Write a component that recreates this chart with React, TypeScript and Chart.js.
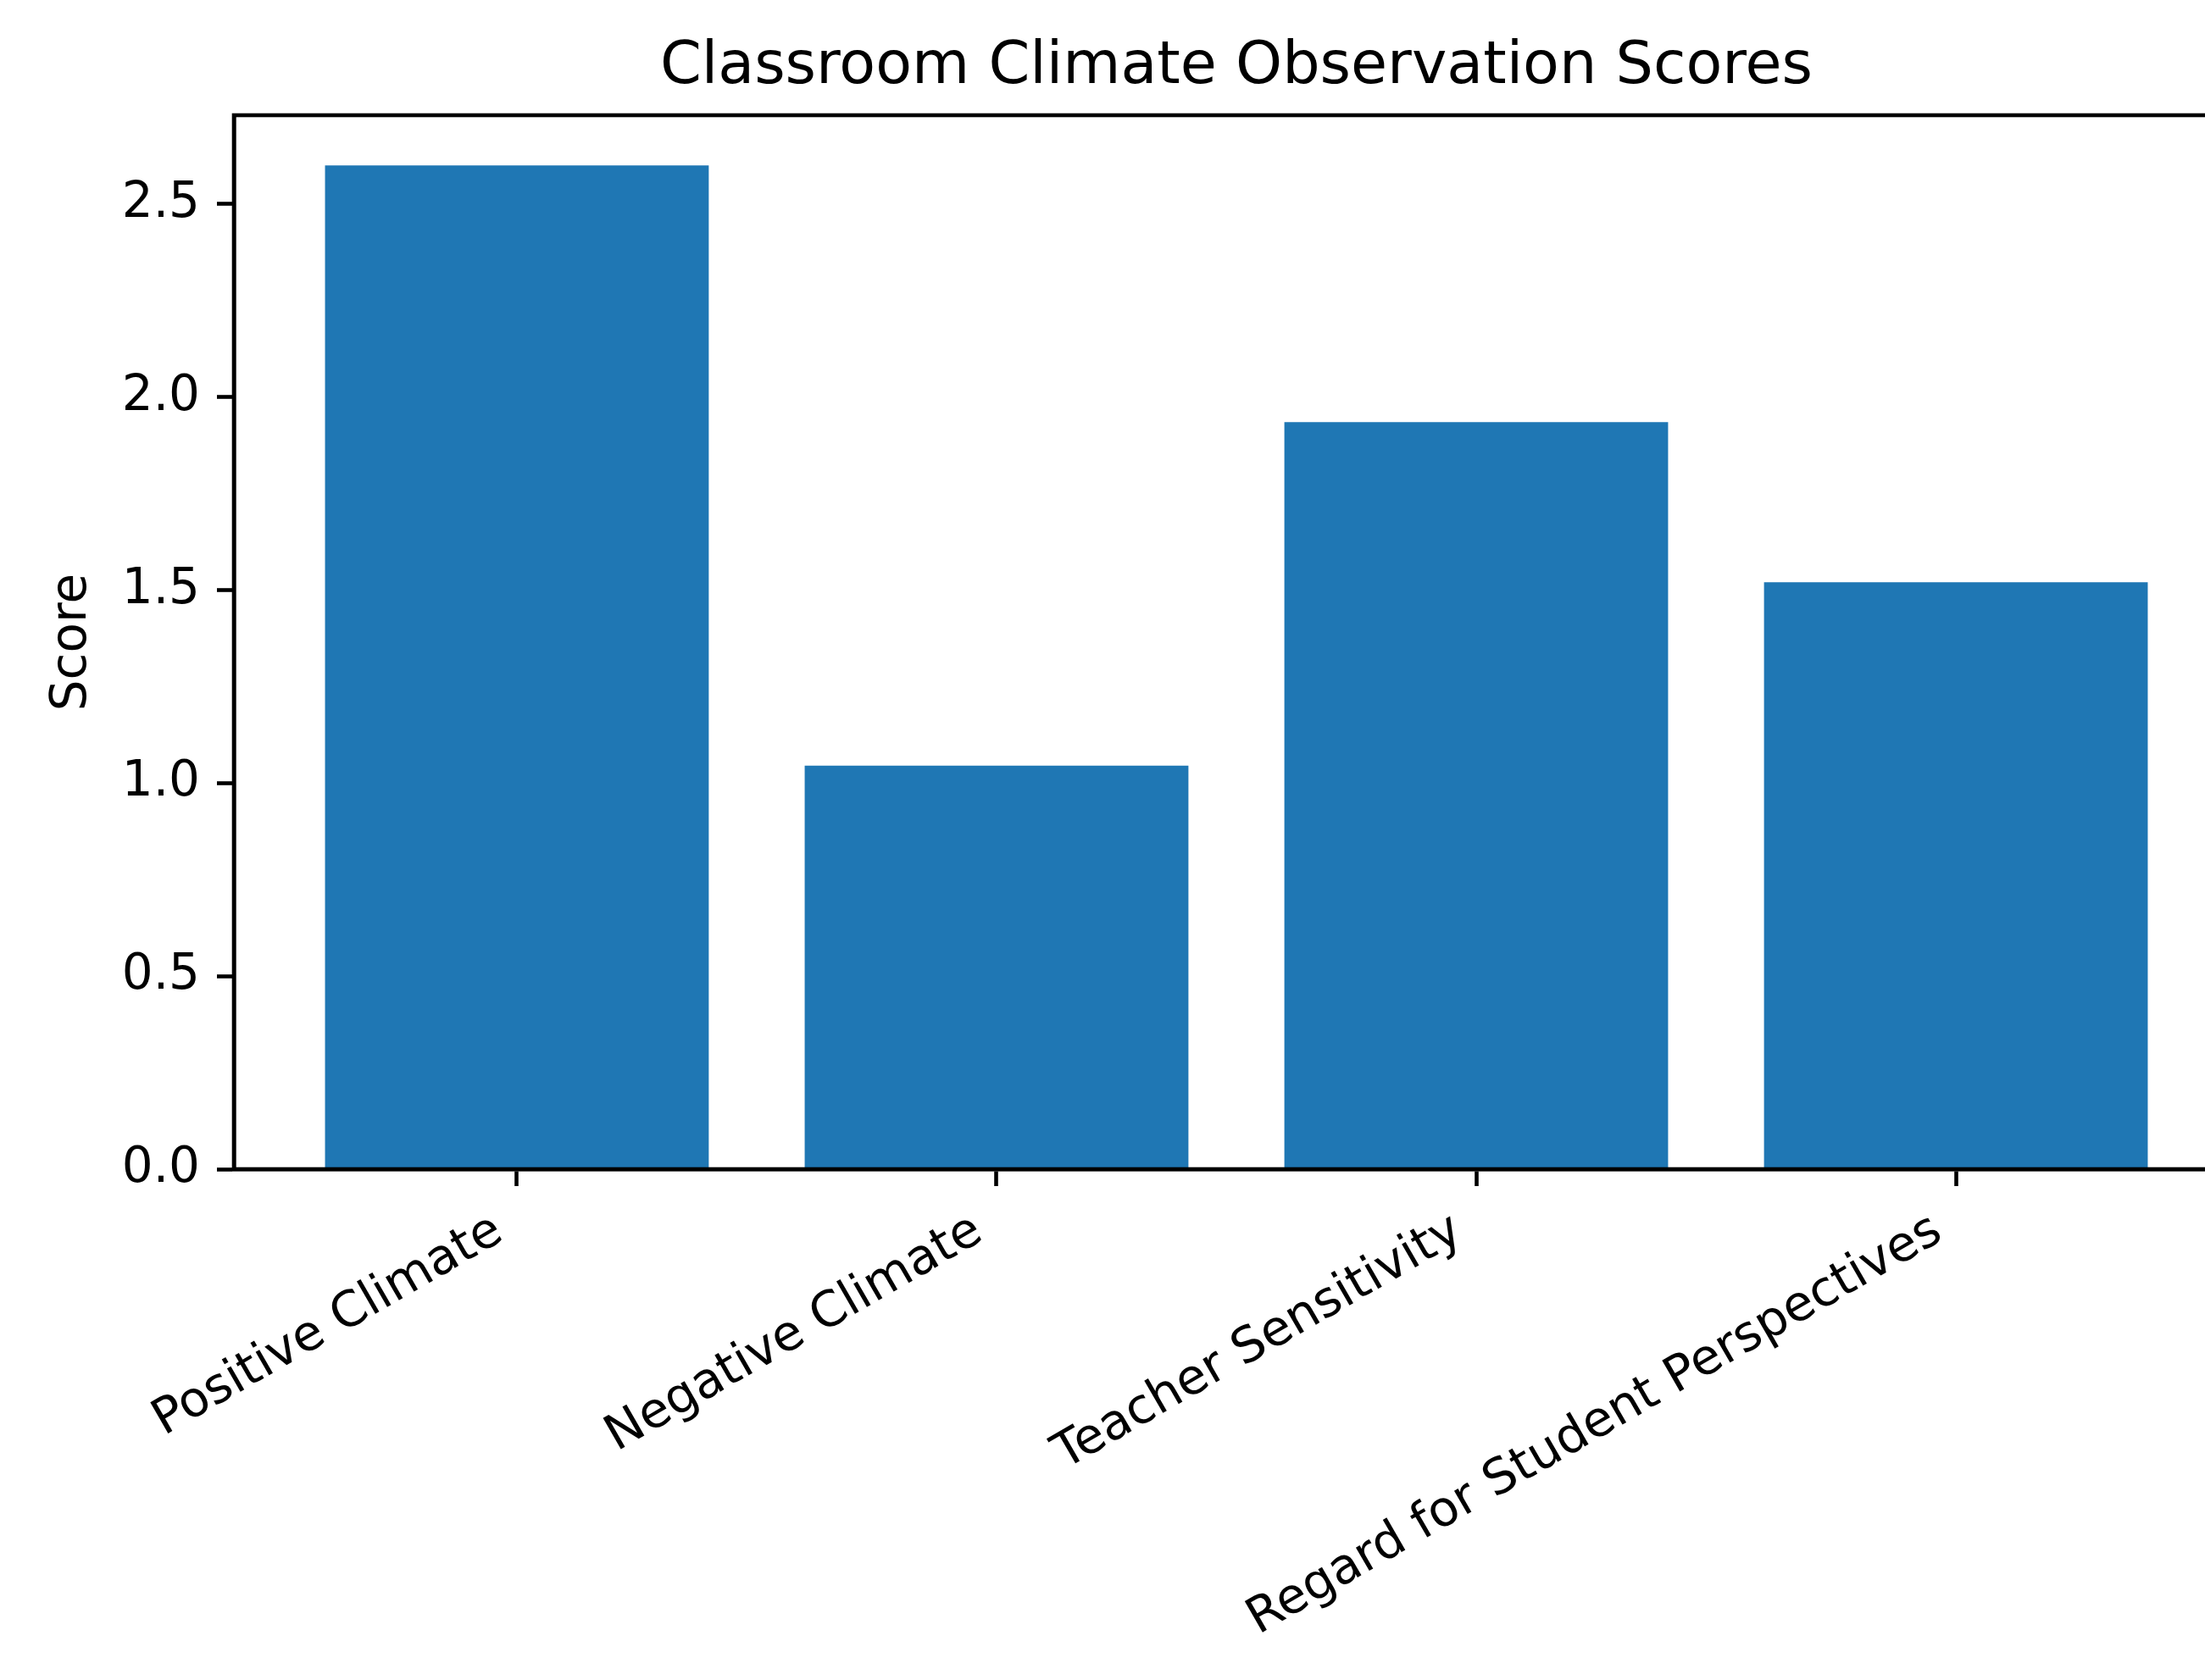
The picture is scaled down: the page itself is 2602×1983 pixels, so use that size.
import React, { useEffect, useRef } from "react";
import { Chart, registerables } from "chart.js";

Chart.register(...registerables);

const categories: string[] = [
  "Positive Climate",
  "Negative Climate",
  "Teacher Sensitivity",
  "Regard for Student Perspectives",
];
const scores: number[] = [2.6, 1.045, 1.935, 1.52];
const xTickValues: number[] = [0, 1, 2, 3];

const FONT = "'DejaVu Sans', sans-serif";
const LW = 4.6;

const framePlugin = {
  id: "frame",
  afterDatasetsDraw(chart: any) {
    const { ctx, chartArea } = chart;
    ctx.save();
    ctx.strokeStyle = "#000";
    ctx.lineWidth = LW;
    ctx.strokeRect(
      chartArea.left,
      chartArea.top,
      chartArea.right - chartArea.left,
      chartArea.bottom - chartArea.top
    );
    ctx.restore();
  },
};

export default function App() {
  const ref = useRef<HTMLCanvasElement | null>(null);

  useEffect(() => {
    if (!ref.current) return;
    const chart = new Chart(ref.current, {
      type: "bar",
      data: {
        datasets: [
          {
            data: scores.map((y, i) => ({ x: xTickValues[i], y })),
            backgroundColor: "#1f77b4",
            borderWidth: 0,
            barPercentage: 0.8,
            categoryPercentage: 1.0,
          },
        ],
      },
      plugins: [framePlugin],
      options: {
        animation: false,
        responsive: false,
        maintainAspectRatio: false,
        layout: { padding: { left: 0, right: 30, top: 0, bottom: 0 } },
        plugins: {
          legend: { display: false },
          tooltip: { enabled: false },
          title: {
            display: true,
            text: "Classroom Climate Observation Scores",
            color: "#000",
            fullSize: false,
            font: { family: FONT, size: 70, weight: "normal", lineHeight: 1.2 },
            padding: { top: 38, bottom: 14 },
          },
        },
        scales: {
          x: {
            type: "linear",
            min: -0.59,
            max: 3.59,
            offset: false,
            afterBuildTicks: (axis: any) => {
              axis.ticks = xTickValues.map((value) => ({ value }));
            },
            afterFit: (axis: any) => {
              axis.height = 603;
            },
            grid: {
              display: true,
              offset: false,
              drawOnChartArea: false,
              drawTicks: true,
              tickLength: 20,
              tickWidth: LW,
              tickColor: "#000",
            },
            border: { display: true, color: "#000", width: LW },
            ticks: {
              autoSkip: false,
              minRotation: 30,
              maxRotation: 30,
              labelOffset: -21,
              padding: 19,
              color: "#000",
              font: { family: FONT, size: 58, lineHeight: 1.2 },
              callback: (value: any) => categories[Number(value)] ?? "",
            },
          },
          y: {
            type: "linear",
            min: 0,
            max: 2.73,
            afterFit: (axis: any) => {
              axis.width = 276;
            },
            grid: {
              display: true,
              drawOnChartArea: false,
              drawTicks: true,
              tickLength: 20,
              tickWidth: LW,
              tickColor: "#000",
            },
            border: { display: true, color: "#000", width: LW },
            title: {
              display: true,
              text: "Score",
              color: "#000",
              font: { family: FONT, size: 58, lineHeight: 1.2 },
              padding: { top: 51, bottom: 0 },
            },
            ticks: {
              stepSize: 0.5,
              includeBounds: false,
              padding: 20,
              color: "#000",
              font: { family: FONT, size: 58, lineHeight: 1.2 },
              callback: (value: any) => Number(value).toFixed(1),
            },
          },
        },
      } as any,
    });
    return () => chart.destroy();
  }, []);

  return (
    <div
      style={{
        position: "fixed",
        left: 0,
        top: 0,
        width: 2602,
        height: 1983,
        overflow: "hidden",
        background: "#fff",
      }}
    >
      <canvas
        ref={ref}
        width={2672}
        height={1983}
        style={{ display: "block", width: 2672, height: 1983 }}
      />
    </div>
  );
}
